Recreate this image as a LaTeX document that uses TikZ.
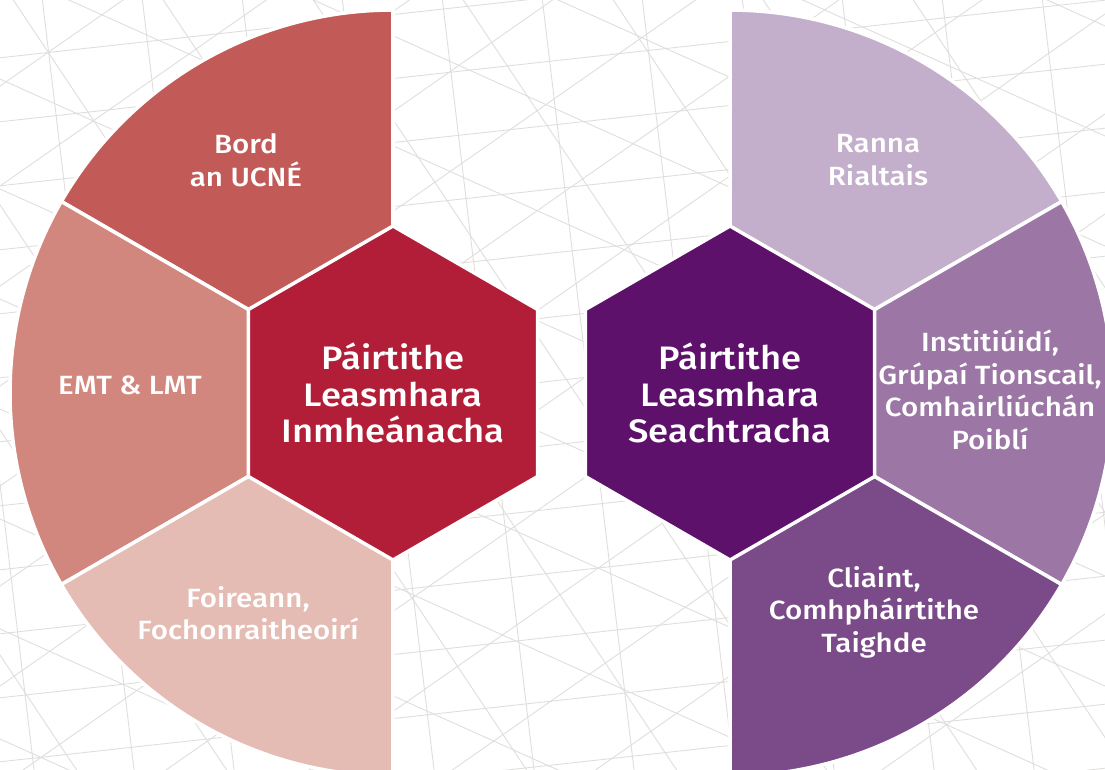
\documentclass[tikz,border=0pt]{standalone}
\usepackage{fontspec}
\setmainfont{Fira Sans}[BoldFont={Fira Sans Medium}, FakeStretch=1.12]
\usetikzlibrary{calc}
\definecolor{meshgray}{HTML}{E0DEDC}
\definecolor{redtop}{HTML}{C25B57}
\definecolor{redmid}{HTML}{D1877D}
\definecolor{redlow}{HTML}{E4BCB4}
\definecolor{redhex}{HTML}{B21E37}
\definecolor{purtop}{HTML}{C3AFCB}
\definecolor{purmid}{HTML}{9C77A6}
\definecolor{purlow}{HTML}{7B4A88}
\definecolor{purhex}{HTML}{5E116B}
\tikzset{
mesh/.style={draw=meshgray, line width=0.5pt}, sector/.style={draw=white, line width=2pt, line join=miter}, hexa/.style={sector},
lbl/.style={text=white, align=center, font=\fontsize{15}{18.5}\selectfont\bfseries}, hextxt/.style={lbl, font=\fontsize{18.5}{20.7}\selectfont\bfseries}}

\begin{document}
\begin{tikzpicture}[x=0.02cm, y=0.02cm]
\useasboundingbox (0,0) rectangle (1105,769);
\clip (0,0) rectangle (1105,769);
\fill [white] (0,0) rectangle (1105,769);
\begin{scope}[shift={(0,769)}, yscale=-1]
\foreach \k in {0,...,13} \draw [mesh] (-20,{60+64*\k}) -- (1125,{-66+64*\k});
\foreach \k in {0,...,11} \draw [mesh] ({-60+100*\k},-20) -- ({40+100*\k},820);
\foreach \k in {-6,...,8} \draw [mesh] (-20,{-40+110*\k}) -- (1125,{475+110*\k});
\foreach \k in {0,...,14} \draw [mesh] (-20,{100*\k}) -- (1125,{100*\k-800});
\foreach \k in {-6,...,6} \draw [mesh] ({150*\k},-20) -- ({150*\k+560},820);
\end{scope}

\coordinate (cL) at (393,376);
\coordinate (cR) at (730,376);
\foreach \a/\col [evaluate={\b=int(\a+60);}] in {90/redtop, 150/redmid, 210/redlow}{
      \filldraw [sector, fill=\col] (cL) -- ++(\a:383) arc [start angle=\a, end angle=\b, radius=7.66cm] -- cycle;
}
\foreach \a/\col [evaluate={\b=int(\a+60);}] in {30/purtop, -30/purmid, -90/purlow}{
      \filldraw [sector, fill=\col] (cR) -- ++(\a:383) arc [start angle=\a, end angle=\b, radius=7.66cm] -- cycle;
}
\filldraw [hexa, fill=redhex] (cL) +(30:167) -- +(90:167) -- +(150:167) -- +(210:167) -- +(270:167) -- +(330:167) -- cycle;
\filldraw [hexa, fill=purhex] (cR) +(30:167) -- +(90:167) -- +(150:167) -- +(210:167) -- +(270:167) -- +(330:167) -- cycle;

\node [hextxt] (inmh) at (cL) {Páirtithe\\Leasmhara\\Inmheánacha};
\node [hextxt] (seach) at (cR) {Páirtithe\\Leasmhara\\Seachtracha};
\node [lbl] (bord) at (246,609) {Bord\\an UCNÉ};
\node [lbl] (emt) at (130,384) {EMT \& LMT};
\node [lbl] (foir) at (248,156) {Foireann,\\Fochonraitheoirí};
\node [lbl] (ranna) at (878,609) {Ranna\\Rialtais};
\node [lbl] (inst) at (990,379) {Institiúidí,\\Grúpaí Tionscail,\\Comhairliúchán\\Poiblí};
\node [lbl] (cliaint) at (874,157) {Cliaint,\\Comhpháirtithe\\Taighde};
\end{tikzpicture}
\end{document}
